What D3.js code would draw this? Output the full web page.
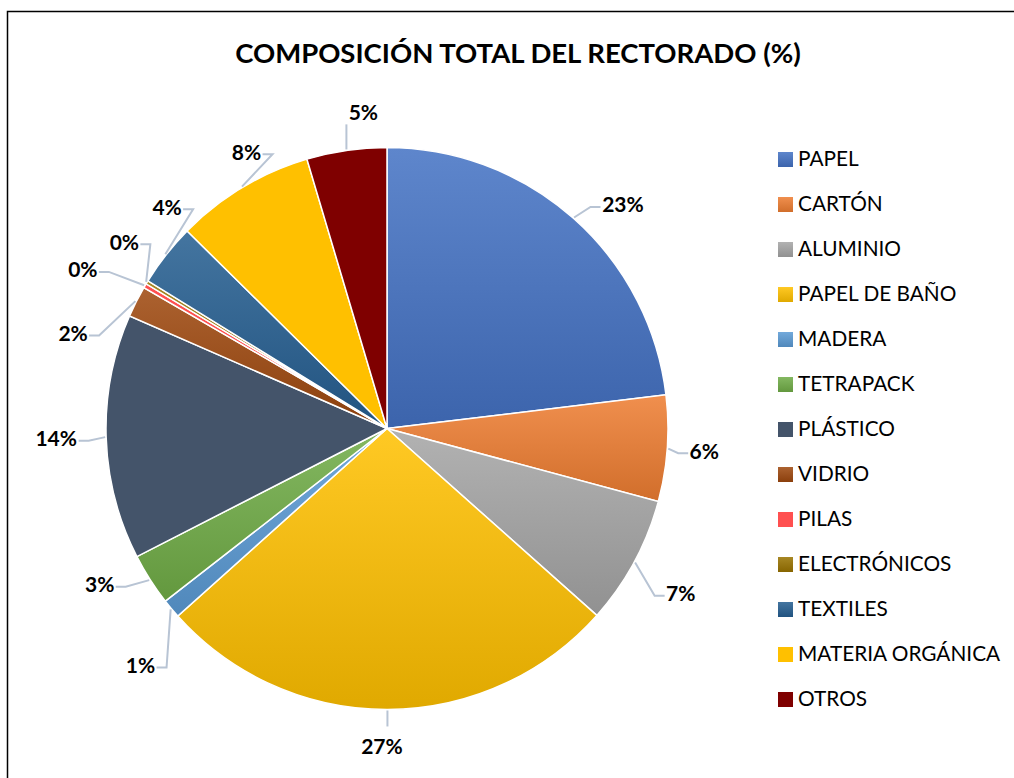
<!DOCTYPE html>
<html lang="es">
<head>
  <meta charset="utf-8">
  <title>Composición total del rectorado</title>
  <script src="https://cdn.jsdelivr.net/npm/d3@7"></script>
  <style>
    body { margin: 0; background: #fff; }
    svg { display: block; font-family: Lato, "Open Sans", sans-serif; }
  </style>
</head>
<body>
<div id="chart"></div>
<script>
// categorias y valores (%)
var categories = ["PAPEL", "CARTÓN", "ALUMINIO", "PAPEL DE BAÑO", "MADERA", "TETRAPACK",
  "PLÁSTICO", "VIDRIO", "PILAS", "ELECTRÓNICOS", "TEXTILES", "MATERIA ORGÁNICA", "OTROS"];
var values = [23.1, 6.1, 7.4, 26.8, 1.1, 3.0, 14.1, 1.8, 0.25, 0.2, 3.6, 8.0, 4.6];
var colors = ["#4472C4", "#ED7D31", "#A5A5A5", "#FFC000", "#5B9BD5", "#70AD47",
  "#44546A", "#9E480E", "#FF5050", "#997300", "#255E91", "#FFC000", "#7F0000"];
// which slices get the soft top-to-bottom gradient (the rest are flat)
var gradient = [true, true, true, true, true, true, false, true, false, true, true, false, false];
// small label nudges (degrees, extra radius) so labels sit like the original
var labelShift = [5, 0, 1, 1, -4, 4, 0, -10, -3, 4, 7, 4, 4];
var labelDist = [3, -4, 15, -4, 20, 5, 9, 6, 21, 0, -10, -12, -5];

var W = 1014, H = 778;
var cx = 387, cy = 428.5, r = 281;

var svg = d3.select("#chart").append("svg")
  .attr("width", W).attr("height", H);

// frame
svg.append("path")
  .attr("d", "M7.5," + H + "V11.5H" + W)
  .attr("fill", "none").attr("stroke", "#000").attr("stroke-width", 1.5);

svg.append("text")
  .attr("x", 518).attr("y", 63)
  .attr("text-anchor", "middle")
  .style("font-size", "27.5px").style("font-weight", "bold")
  .text("COMPOSICIÓN TOTAL DEL RECTORADO (%)");

var defs = svg.append("defs");
colors.forEach(function(c, i) {
  var g = defs.append("linearGradient").attr("id", "g" + i)
    .attr("x1", 0).attr("y1", 0).attr("x2", 0).attr("y2", 1);
  var top = gradient[i] ? d3.interpolateRgb(c, "#fff")(0.14) : c;
  var bot = gradient[i] ? d3.interpolateRgb(c, "#000")(0.12) : c;
  g.append("stop").attr("offset", "0%").attr("stop-color", top);
  g.append("stop").attr("offset", "100%").attr("stop-color", bot);
});

var data = categories.map(function(d, i) { return {name: d, value: values[i], i: i}; });
var total = d3.sum(values);

var pie = d3.pie().sort(null).value(function(d) { return d.value; });
var arc = d3.arc().innerRadius(0).outerRadius(r);
var arcs = pie(data);

var g = svg.append("g").attr("transform", "translate(" + cx + "," + cy + ")");

g.selectAll("path.slice")
  .data(arcs)
  .enter().append("path")
    .attr("class", "slice")
    .attr("d", arc)
    .attr("fill", function(d) { return "url(#g" + d.data.i + ")"; })
    .attr("stroke", "#fff")
    .attr("stroke-width", 1.5);

// labels with leader lines
arcs.forEach(function(d) {
  var i = d.data.i;
  var mid = (d.startAngle + d.endAngle) / 2;
  var la = mid + labelShift[i] * Math.PI / 180;
  var lr = 322 + labelDist[i];
  var lx = lr * Math.sin(la), ly = -lr * Math.cos(la);
  var txt = Math.round(d.data.value / total * 100) + "%";
  var tw = txt.length * 13;

  var sx = (r + 1) * Math.sin(mid), sy = -(r + 1) * Math.cos(mid);
  var pts;
  var s = Math.sin(la);
  if (Math.abs(s) < 0.25) {
    // label above or below: vertical leader
    var ey = ly + (ly > 0 ? -20 : 12);
    pts = [[sx, sy], [sx, ey]];
  } else {
    var edge = lx + (s > 0 ? -tw / 2 - 3 : tw / 2 + 3);
    var ey2 = ly + 2;
    pts = [[sx, sy], [edge + (s > 0 ? -10 : 10), ey2], [edge, ey2]];
  }
  g.append("path")
    .attr("d", d3.line()(pts))
    .attr("fill", "none")
    .attr("stroke", "#B8C4D4")
    .attr("stroke-width", 2);

  g.append("text")
    .attr("x", lx).attr("y", ly)
    .attr("dy", "0.35em")
    .attr("text-anchor", "middle")
    .style("font-size", "21px").style("font-weight", "bold")
    .text(txt);
});

// legend
var legend = svg.append("g").attr("transform", "translate(778,159)");
var item = legend.selectAll("g")
  .data(categories)
  .enter().append("g")
    .attr("transform", function(d, i) { return "translate(0," + i * 45 + ")"; });
item.append("rect")
  .attr("x", 0).attr("y", -7).attr("width", 15).attr("height", 15)
  .attr("fill", function(d, i) { return "url(#g" + i + ")"; });
item.append("text")
  .attr("x", 20).attr("y", 0).attr("dy", "0.35em")
  .style("font-size", "20.8px")
  .text(function(d) { return d; });
</script>
</body>
</html>
